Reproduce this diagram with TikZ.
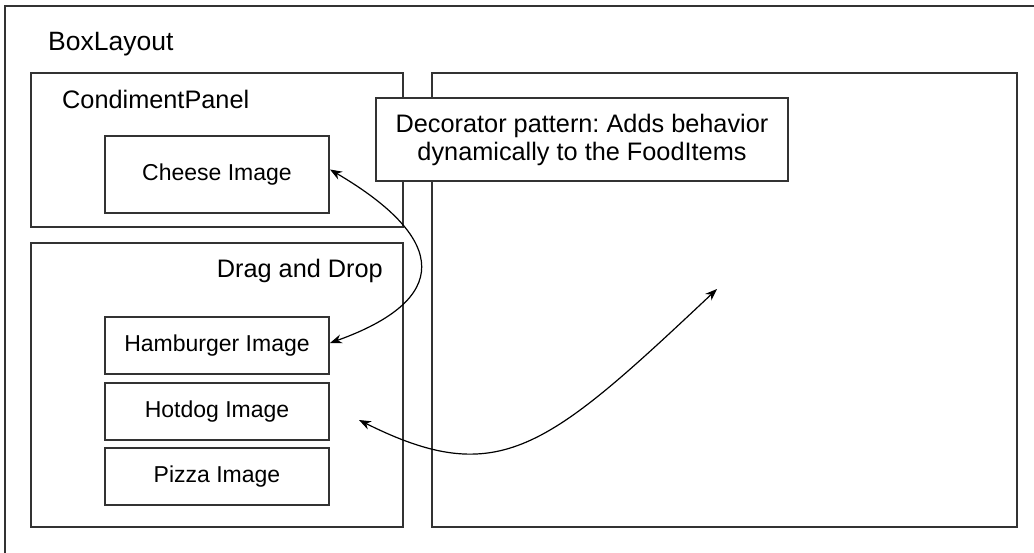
\documentclass[tikz,border=0pt]{standalone}
\usepackage{fontspec}
\setmainfont{Liberation Sans}
\usetikzlibrary{arrows.meta}
\frenchspacing
\tikzset{
  panel/.style={draw=black!80, line width=1.3pt, fill=white, inner sep=0pt, outer sep=0pt},
  imgbox/.style={panel, minimum width=224pt, minimum height=57pt, font=\fontsize{23}{26}\selectfont},
  biglabel/.style={inner sep=0pt, font=\fontsize{25.3}{28}\selectfont},
  conn/.style={line width=1.2pt, {Stealth[length=12pt,width=9pt]}-{Stealth[length=12pt,width=9pt]}}
}
\begin{document}
\begin{tikzpicture}[x=1pt, y=-1pt]
\useasboundingbox (0,0) rectangle (1034,552);
\clip (0,0) rectangle (1034,552);
\fill[white] (0,0) rectangle (1034,552);
% outer BoxLayout frame (extends past the picture edge)
\draw[draw=black!80, line width=1.3pt] (1045,6) -- (5,6) -- (5,565);
\node[biglabel, anchor=base west, font=\fontsize{26.5}{30}\selectfont] (boxlayout) at (48,50) {BoxLayout};
% panels
\node[panel, minimum width=372pt, minimum height=154pt] (cond) at (217,150) {};
\node[panel, minimum width=372pt, minimum height=284pt] (drag) at (217,385) {};
\node[panel, minimum width=585pt, minimum height=454pt] (right) at (724.5,300) {};
\node[biglabel, anchor=base west] (condlabel) at (62,108) {CondimentPanel};
\node[biglabel, anchor=base east] (draglabel) at (383,277) {Drag and Drop};
% image boxes
\node[imgbox, minimum height=77pt] (cheese) at (217,174.5) {Cheese Image};
\node[imgbox] (hamb) at (217,345.5) {Hamburger Image};
\node[imgbox] (hotdog) at (217,411.5) {Hotdog Image};
\node[imgbox] (pizza) at (217,476.5) {Pizza Image};
% decorator note
\node[panel, minimum width=412pt, minimum height=83pt, align=center, font=\fontsize{25.3}{28}\selectfont] (deco) at (582,139.5) {Decorator pattern: Adds behavior\\dynamically to the FoodItems};
% connectors
\draw[conn] ([shift={(1,-5)}]cheese.east) .. controls (450,240) and (450,300) .. ([shift={(1,-2.5)}]hamb.east);
\coordinate (dropS) at (359,420);
\coordinate (dropE) at (717,289);
\draw[conn] (dropS) .. controls (499,490) and (547,449) .. (dropE);
\end{tikzpicture}
\end{document}
